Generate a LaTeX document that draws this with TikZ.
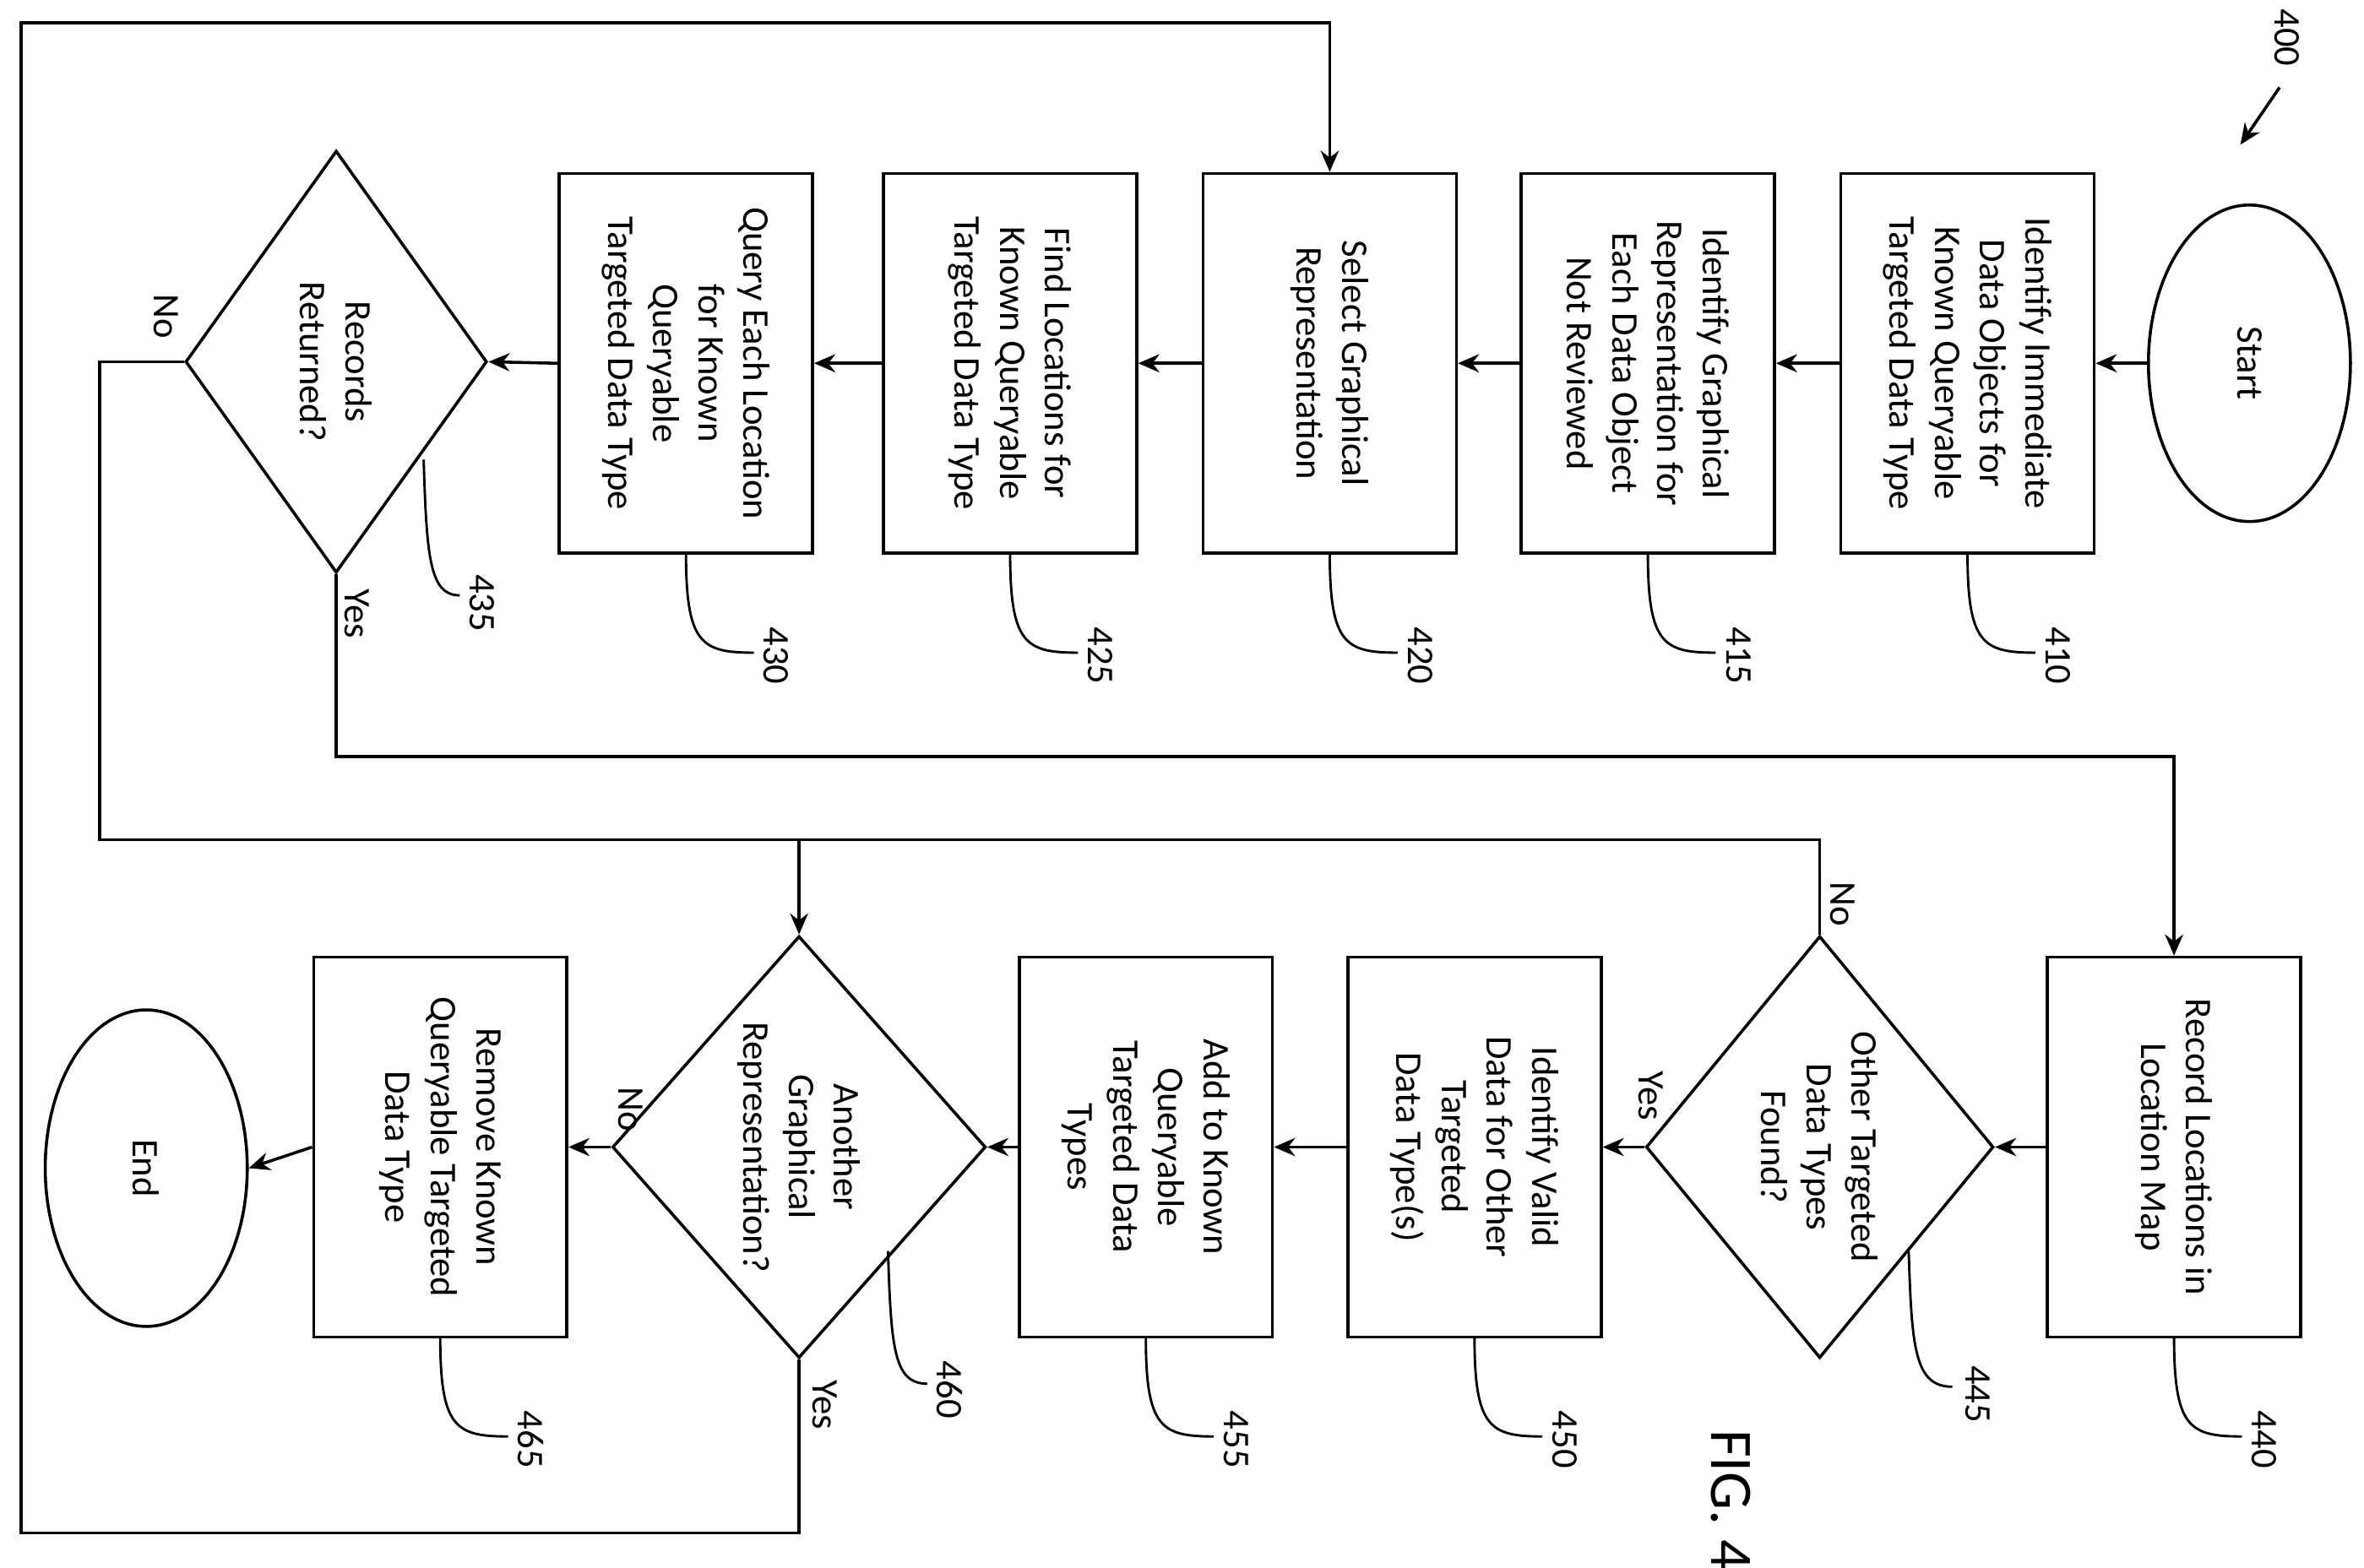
\documentclass[tikz,border=0pt]{standalone}
\usepackage{fontspec}
\setmainfont{Carlito}
\usetikzlibrary{shapes.geometric,arrows.meta}
\begin{document}
\begin{tikzpicture}[x=0.5pt,y=-0.5pt,line width=1pt,
  every node/.style={font=\fontsize{12.5}{15}\selectfont},
  box/.style={draw,rectangle,rotate=-90,minimum width=126pt,minimum height=84pt,align=center,inner sep=2pt},
  dia/.style={draw,diamond,rotate=-90,minimum width=140pt,minimum height=100pt,align=center,inner sep=0pt},
  ell/.style={draw,ellipse,rotate=-90,minimum width=105pt,minimum height=67pt},
  arr/.style={-{Stealth[length=7pt,width=6pt]}},
  lbl/.style={rotate=-90},
  ref/.style={rotate=-90}]
\useasboundingbox (0,0) rectangle (1568,1040);
\node[ell] (start) at (1492,241) {Start};
\node[box] (b410) at (1305,241) {Identify Immediate\\Data Objects for\\Known Queryable\\Targeted Data Type};
\node[box] (b415) at (1093,241) {Identify Graphical\\Representation for\\Each Data Object\\Not Reviewed};
\node[box] (b420) at (882,241) {Select Graphical\\Representation};
\node[box] (b425) at (670,241) {Find Locations for\\Known Queryable\\Targeted Data Type};
\node[box] (b430) at (455,241) {Query Each Location\\for Known\\Queryable\\Targeted Data Type};
\node[dia] (d435) at (223,240) {Records\\Returned?};
\node[box] (b440) at (1442,761) {Record Locations in\\Location Map};
\node[dia] (d445) at (1207,761) {Other Targeted\\Data Types\\Found?};
\node[box] (b450) at (978,761) {Identify Valid\\Data for Other\\Targeted\\Data Type(s)};
\node[box] (b455) at (760,761) {Add to Known\\Queryable\\Targeted Data\\Types};
\node[dia] (d460) at (530,761) {Another\\Graphical\\Representation?};
\node[box] (b465) at (292,761) {Remove Known\\Queryable Targeted\\Data Type};
\node[ell] (end) at (97,775) {End};
% main flow
\draw[arr] (start.south) -- (b410.north);
\draw[arr] (b410.south) -- (b415.north);
\draw[arr] (b415.south) -- (b420.north);
\draw[arr] (b420.south) -- (b425.north);
\draw[arr] (b425.south) -- (b430.north);
\draw[arr] (b430.south) -- (d435.north);
\draw[arr] (b440.south) -- (d445.north);
\draw[arr] (d445.south) -- (b450.north);
\draw[arr] (b450.south) -- (b455.north);
\draw[arr] (b455.south) -- (d460.north);
\draw[arr] (d460.south) -- (b465.north);
\draw[arr] (b465.south) -- (end.north);
% loops
\coordinate (j1) at (530,557);
\draw[arr] (d435.south) -| (66,557) -- (j1) -- (d460.west);
\draw (d445.west) |- (j1);
\draw[arr] (d435.east) |- (1442,502) -- (b440.west);
\draw[arr] (d460.east) |- (14,1017) |- (882,15) -- (b420.west);
% yes/no
\node[lbl] at (110,210) {No};
\node[lbl] at (237,407) {Yes};
\node[lbl] at (1222,600) {No};
\node[lbl] at (1095,727) {Yes};
\node[lbl] at (418,736) {No};
\node[lbl] at (547,932) {Yes};
% reference numbers
\foreach \n/\cx/\yy in {410/1305/367,415/1093/367,420/882/367,425/670/367,430/455/367,440/1442/887,450/978/887,455/760/887,465/292/887}{
  \draw[line width=0.8pt] (\cx,\yy) .. controls (\cx,\yy+60) and (\cx+10,\yy+66) .. (\cx+45,\yy+66);
  \node[ref] at (\cx+60,\yy+68) {\n};
}
\draw[line width=0.8pt] (281,305) .. controls (283,370) and (285,395) .. (305,395);
\node[ref] at (320,400) {435};
\draw[line width=0.8pt] (1266,830) .. controls (1268,895) and (1270,920) .. (1295,920);
\node[ref] at (1312,925) {445};
\draw[line width=0.8pt] (589,830) .. controls (591,895) and (593,918) .. (615,918);
\node[ref] at (630,922) {460};
\node[ref] at (1517,25) {400};
\draw[arr] (1512,58) -- (1486,96);
\node[rotate=-90,font=\fontsize{20}{24}\selectfont] at (1148,995) {FIG. 4};
\end{tikzpicture}
\end{document}
